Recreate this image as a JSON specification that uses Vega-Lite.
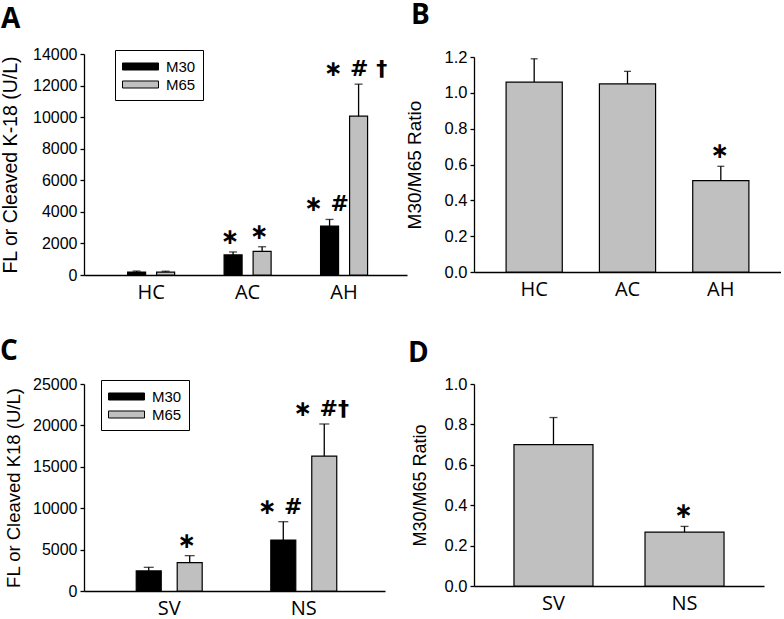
{
  "$schema": "https://vega.github.io/schema/vega-lite/v6.json",
  "padding": {"left": 0, "top": 2, "right": 0, "bottom": 0},
  "background": "white",
  "datasets": {
    "a": [
      {"group": "HC", "series": "M30", "value": 190, "err": 250, "ann": ""},
      {"group": "HC", "series": "M65", "value": 180, "err": 240, "ann": ""},
      {"group": "AC", "series": "M30", "value": 1270, "err": 1460, "ann": "∗"},
      {"group": "AC", "series": "M65", "value": 1500, "err": 1790, "ann": "∗"},
      {"group": "AH", "series": "M30", "value": 3100, "err": 3520, "ann": "∗ #"},
      {"group": "AH", "series": "M65", "value": 10060, "err": 12090, "ann": "∗ # †"}
    ],
    "b": [
      {"group": "HC", "value": 1.06, "err": 1.19, "ann": ""},
      {"group": "AC", "value": 1.05, "err": 1.12, "ann": ""},
      {"group": "AH", "value": 0.51, "err": 0.59, "ann": "∗"}
    ],
    "c": [
      {"group": "SV", "series": "M30", "value": 2420, "err": 2860, "ann": ""},
      {"group": "SV", "series": "M65", "value": 3420, "err": 4270, "ann": "∗"},
      {"group": "NS", "series": "M30", "value": 6160, "err": 8370, "ann": "∗ #"},
      {"group": "NS", "series": "M65", "value": 16300, "err": 20170, "ann": "∗ #†"}
    ],
    "d": [
      {"group": "SV", "value": 0.70, "err": 0.834, "ann": ""},
      {"group": "NS", "value": 0.267, "err": 0.295, "ann": "∗"}
    ]
  },
  "columns": 2,
  "bounds": "flush",
  "align": "each",
  "center": {"row": true, "column": false},
  "spacing": {"row": 109, "column": 67},
  "resolve": {"scale": {"xOffset": "independent", "fill": "independent"}, "legend": {"fill": "independent"}},
  "concat": [
    {
      "width": 323, "height": 221,
      "title": {"text": "A", "anchor": "start", "frame": "group", "dx": -83, "offset": -10, "baseline": "alphabetic", "fontSize": 28, "font": "Open Sans", "fontWeight": "bold", "color": "black"},
      "data": {"name": "a"},
      "encoding": {
        "x": {"field": "group", "type": "nominal", "sort": ["HC", "AC", "AH"], "scale": {"paddingInner": 0.378, "paddingOuter": 0.363, "align": 0.53}, "axis": {"title": null}},
        "xOffset": {"field": "series", "type": "nominal", "sort": ["M30", "M65"], "scale": {"paddingInner": 0.38, "paddingOuter": 0.224}}
      },
      "layer": [
        {
          "mark": {"type": "bar", "stroke": "black", "strokeWidth": 1.2},
          "encoding": {
            "y": {"field": "value", "type": "quantitative", "title": "FL or Cleaved K-18 (U/L)", "scale": {"domain": [0, 14000], "nice": false}, "axis": {"values": [0, 2000, 4000, 6000, 8000, 10000, 12000, 14000], "format": "d", "titleFontSize": 19.5, "labelFontSize": 16, "titlePadding": 12, "labelOverlap": false}},
            "fill": {"field": "series", "type": "nominal", "sort": ["M30", "M65"], "scale": {"domain": ["M30", "M65"], "range": ["black", "#c0c0c0"]}, "legend": {"orient": "none", "legendX": 31, "legendY": -4, "title": null}}
          }
        },
        {
          "mark": {"type": "rule", "color": "black", "strokeWidth": 1.3},
          "encoding": {
            "y": {"field": "value", "type": "quantitative", "title": "FL or Cleaved K-18 (U/L)", "scale": {"domain": [0, 14000], "nice": false}, "axis": {"values": [0, 2000, 4000, 6000, 8000, 10000, 12000, 14000], "format": "d", "titleFontSize": 19.5, "labelFontSize": 16, "titlePadding": 12, "labelOverlap": false}},
            "y2": {"field": "err"}
          }
        },
        {
          "mark": {"type": "tick", "color": "black", "size": 8, "thickness": 1.3},
          "encoding": {
            "y": {"field": "err", "type": "quantitative", "title": "FL or Cleaved K-18 (U/L)", "scale": {"domain": [0, 14000], "nice": false}, "axis": {"values": [0, 2000, 4000, 6000, 8000, 10000, 12000, 14000], "format": "d", "titleFontSize": 19.5, "labelFontSize": 16, "titlePadding": 12, "labelOverlap": false}}
          }
        },
        {
          "transform": [{"filter": "datum.ann != ''"}],
          "mark": {"type": "text", "font": "DejaVu Sans", "fontSize": 22, "fontWeight": "bold", "baseline": "alphabetic", "align": "center", "dy": -8, "dx": -3, "color": "black"},
          "encoding": {
            "y": {"field": "err", "type": "quantitative", "title": "FL or Cleaved K-18 (U/L)", "scale": {"domain": [0, 14000], "nice": false}, "axis": {"values": [0, 2000, 4000, 6000, 8000, 10000, 12000, 14000], "format": "d", "titleFontSize": 19.5, "labelFontSize": 16, "titlePadding": 12, "labelOverlap": false}},
            "text": {"field": "ann"}
          }
        }
      ]
    },
    {
      "width": 307, "height": 215,
      "title": {"text": "B", "anchor": "start", "frame": "group", "dx": -63, "offset": -3, "baseline": "alphabetic", "fontSize": 28, "font": "Open Sans", "fontWeight": "bold", "color": "black"},
      "data": {"name": "b"},
      "encoding": {
        "x": {"field": "group", "type": "nominal", "sort": ["HC", "AC", "AH"], "scale": {"paddingInner": 0.398, "paddingOuter": 0.344}, "axis": {"title": null}}
      },
      "layer": [
        {
          "mark": {"type": "bar", "fill": "#c0c0c0", "stroke": "black", "strokeWidth": 1.2},
          "encoding": {
            "y": {"field": "value", "type": "quantitative", "title": "M30/M65 Ratio", "scale": {"domain": [0, 1.2], "nice": false}, "axis": {"values": [0, 0.2, 0.4, 0.6, 0.8, 1.0, 1.2], "format": ".1f", "titleFontSize": 19, "labelFontSize": 16.5, "titlePadding": 20, "labelOverlap": false}}
          }
        },
        {
          "mark": {"type": "rule", "color": "black", "strokeWidth": 1.3},
          "encoding": {
            "y": {"field": "value", "type": "quantitative", "title": "M30/M65 Ratio", "scale": {"domain": [0, 1.2], "nice": false}, "axis": {"values": [0, 0.2, 0.4, 0.6, 0.8, 1.0, 1.2], "format": ".1f", "titleFontSize": 19, "labelFontSize": 16.5, "titlePadding": 20, "labelOverlap": false}},
            "y2": {"field": "err"}
          }
        },
        {
          "mark": {"type": "tick", "color": "black", "size": 7, "thickness": 1.3},
          "encoding": {
            "y": {"field": "err", "type": "quantitative", "title": "M30/M65 Ratio", "scale": {"domain": [0, 1.2], "nice": false}, "axis": {"values": [0, 0.2, 0.4, 0.6, 0.8, 1.0, 1.2], "format": ".1f", "titleFontSize": 19, "labelFontSize": 16.5, "titlePadding": 20, "labelOverlap": false}}
          }
        },
        {
          "transform": [{"filter": "datum.ann != ''"}],
          "mark": {"type": "text", "font": "DejaVu Sans", "fontSize": 22, "fontWeight": "bold", "baseline": "alphabetic", "align": "center", "dy": -8, "dx": -1, "color": "black"},
          "encoding": {
            "y": {"field": "err", "type": "quantitative", "title": "M30/M65 Ratio", "scale": {"domain": [0, 1.2], "nice": false}, "axis": {"values": [0, 0.2, 0.4, 0.6, 0.8, 1.0, 1.2], "format": ".1f", "titleFontSize": 19, "labelFontSize": 16.5, "titlePadding": 20, "labelOverlap": false}},
            "text": {"field": "ann"}
          }
        }
      ]
    },
    {
      "width": 301, "height": 207,
      "title": {"text": "C", "anchor": "start", "frame": "group", "dx": -84, "offset": -12, "baseline": "alphabetic", "fontSize": 28, "font": "Open Sans", "fontWeight": "bold", "color": "black"},
      "data": {"name": "c"},
      "encoding": {
        "x": {"field": "group", "type": "nominal", "sort": ["SV", "NS"], "scale": {"paddingInner": 0.257, "paddingOuter": 0.247, "align": 0.53}, "axis": {"title": null}},
        "xOffset": {"field": "series", "type": "nominal", "sort": ["M30", "M65"], "scale": {"paddingInner": 0.39, "paddingOuter": 0.415}}
      },
      "layer": [
        {
          "mark": {"type": "bar", "stroke": "black", "strokeWidth": 1.2},
          "encoding": {
            "y": {"field": "value", "type": "quantitative", "title": "FL or Cleaved K18 (U/L)", "scale": {"domain": [0, 25000], "nice": false}, "axis": {"values": [0, 5000, 10000, 15000, 20000, 25000], "format": "d", "titleFontSize": 18.5, "labelFontSize": 16, "titlePadding": 9, "labelOverlap": false}},
            "fill": {"field": "series", "type": "nominal", "sort": ["M30", "M65"], "scale": {"domain": ["M30", "M65"], "range": ["black", "#c0c0c0"]}, "legend": {"orient": "none", "legendX": 17, "legendY": -4, "title": null}}
          }
        },
        {
          "mark": {"type": "rule", "color": "black", "strokeWidth": 1.3},
          "encoding": {
            "y": {"field": "value", "type": "quantitative", "title": "FL or Cleaved K18 (U/L)", "scale": {"domain": [0, 25000], "nice": false}, "axis": {"values": [0, 5000, 10000, 15000, 20000, 25000], "format": "d", "titleFontSize": 18.5, "labelFontSize": 16, "titlePadding": 9, "labelOverlap": false}},
            "y2": {"field": "err"}
          }
        },
        {
          "mark": {"type": "tick", "color": "black", "size": 10, "thickness": 1.3},
          "encoding": {
            "y": {"field": "err", "type": "quantitative", "title": "FL or Cleaved K18 (U/L)", "scale": {"domain": [0, 25000], "nice": false}, "axis": {"values": [0, 5000, 10000, 15000, 20000, 25000], "format": "d", "titleFontSize": 18.5, "labelFontSize": 16, "titlePadding": 9, "labelOverlap": false}}
          }
        },
        {
          "transform": [{"filter": "datum.ann != ''"}],
          "mark": {"type": "text", "font": "DejaVu Sans", "fontSize": 22, "fontWeight": "bold", "baseline": "alphabetic", "align": "center", "dy": -8, "dx": -3, "color": "black"},
          "encoding": {
            "y": {"field": "err", "type": "quantitative", "title": "FL or Cleaved K18 (U/L)", "scale": {"domain": [0, 25000], "nice": false}, "axis": {"values": [0, 5000, 10000, 15000, 20000, 25000], "format": "d", "titleFontSize": 18.5, "labelFontSize": 16, "titlePadding": 9, "labelOverlap": false}},
            "text": {"field": "ann"}
          }
        }
      ]
    },
    {
      "width": 290, "height": 202,
      "title": {"text": "D", "anchor": "start", "frame": "group", "dx": -66, "offset": -14, "baseline": "alphabetic", "fontSize": 28, "font": "Open Sans", "fontWeight": "bold", "color": "black"},
      "data": {"name": "d"},
      "encoding": {
        "x": {"field": "group", "type": "nominal", "sort": ["SV", "NS"], "scale": {"paddingInner": 0.397, "paddingOuter": 0.305}, "axis": {"title": null}}
      },
      "layer": [
        {
          "mark": {"type": "bar", "fill": "#c0c0c0", "stroke": "black", "strokeWidth": 1.2},
          "encoding": {
            "y": {"field": "value", "type": "quantitative", "title": "M30/M65 Ratio", "scale": {"domain": [0, 1], "nice": false}, "axis": {"values": [0, 0.2, 0.4, 0.6, 0.8, 1.0], "format": ".1f", "titleFontSize": 18, "labelFontSize": 16.5, "titlePadding": 15, "labelOverlap": false}}
          }
        },
        {
          "mark": {"type": "rule", "color": "black", "strokeWidth": 1.3},
          "encoding": {
            "y": {"field": "value", "type": "quantitative", "title": "M30/M65 Ratio", "scale": {"domain": [0, 1], "nice": false}, "axis": {"values": [0, 0.2, 0.4, 0.6, 0.8, 1.0], "format": ".1f", "titleFontSize": 18, "labelFontSize": 16.5, "titlePadding": 15, "labelOverlap": false}},
            "y2": {"field": "err"}
          }
        },
        {
          "mark": {"type": "tick", "color": "black", "size": 8, "thickness": 1.3},
          "encoding": {
            "y": {"field": "err", "type": "quantitative", "title": "M30/M65 Ratio", "scale": {"domain": [0, 1], "nice": false}, "axis": {"values": [0, 0.2, 0.4, 0.6, 0.8, 1.0], "format": ".1f", "titleFontSize": 18, "labelFontSize": 16.5, "titlePadding": 15, "labelOverlap": false}}
          }
        },
        {
          "transform": [{"filter": "datum.ann != ''"}],
          "mark": {"type": "text", "font": "DejaVu Sans", "fontSize": 22, "fontWeight": "bold", "baseline": "alphabetic", "align": "center", "dy": -8, "dx": -1, "color": "black"},
          "encoding": {
            "y": {"field": "err", "type": "quantitative", "title": "M30/M65 Ratio", "scale": {"domain": [0, 1], "nice": false}, "axis": {"values": [0, 0.2, 0.4, 0.6, 0.8, 1.0], "format": ".1f", "titleFontSize": 18, "labelFontSize": 16.5, "titlePadding": 15, "labelOverlap": false}},
            "text": {"field": "ann"}
          }
        }
      ]
    }
  ],
  "config": {
    "view": {"stroke": null},
    "axis": {"domainColor": "black", "tickColor": "black", "labelColor": "black", "titleColor": "black", "grid": false, "labelFont": "Liberation Sans", "titleFont": "Liberation Sans", "titleFontWeight": "normal", "domainWidth": 1.3, "tickWidth": 1.3},
    "axisX": {"ticks": false, "labelFont": "Open Sans", "labelFontSize": 20, "labelAngle": 0, "labelPadding": 7},
    "axisY": {"tickSize": 4, "labelPadding": 3, "labelFontSize": 16, "labelOverlap": false},
    "legend": {"symbolType": "M-2,-0.39H2V0.39H-2Z", "symbolSize": 324, "symbolOffset": 9, "symbolStrokeColor": "black", "symbolStrokeWidth": 1, "labelFont": "Liberation Sans", "labelFontSize": 15, "labelColor": "black", "labelOffset": 16, "strokeColor": "black", "fillColor": "white", "padding": 7, "rowPadding": -2.3, "symbolOpacity": 1}
  }
}
